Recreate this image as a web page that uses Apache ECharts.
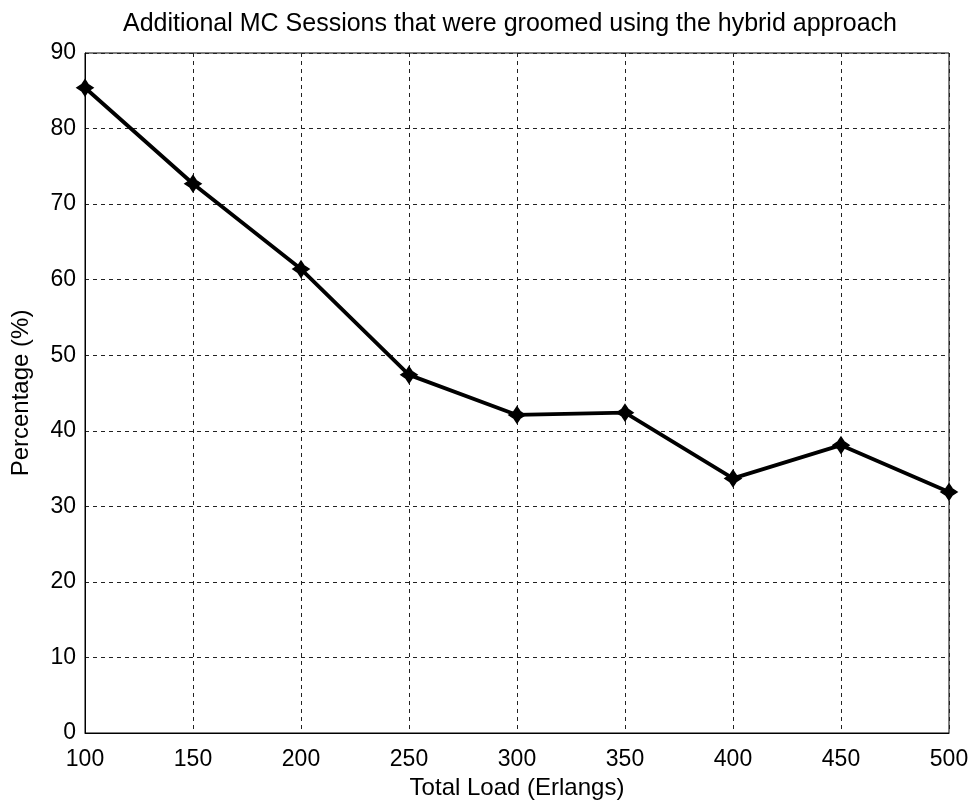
<!DOCTYPE html>
<html>
<head>
<meta charset="utf-8">
<script src="https://cdn.jsdelivr.net/npm/echarts@6/dist/echarts.min.js"></script>
<style>
  html, body { margin: 0; padding: 0; background: #fff; }
  #chart { width: 976px; height: 805px; }
</style>
</head>
<body>
<div id="chart"></div>
<script>
// Total load (Erlangs) and share of additional MC sessions groomed (%)
const loads = [100, 150, 200, 250, 300, 350, 400, 450, 500];
const percentages = [85.4, 72.7, 61.4, 47.4, 42.1, 42.4, 33.7, 38.1, 31.9];
const yTicks = [0, 10, 20, 30, 40, 50, 60, 70, 80, 90];

const font = '"Liberation Sans", Arial, Helvetica, sans-serif';
const chart = echarts.init(document.getElementById('chart'));

// four-pointed star marker
const starPath = 'path://M0,-10 L4,-4 L10,0 L4,4 L0,10 L-4,4 L-10,0 L-4,-4 Z';

chart.setOption({
  backgroundColor: '#ffffff',
  animation: false,
  title: {
    text: 'Additional MC Sessions that were groomed using the hybrid approach',
    left: 505, top: 7, textAlign: 'center',
    textStyle: { fontFamily: font, fontSize: 25, fontWeight: 'normal', color: '#000' }
  },
  grid: {
    left: 85, right: 27, top: 53, bottom: 72,
    outerBoundsMode: 'none',
    containLabel: false,
    show: true, borderColor: '#000', borderWidth: 1, backgroundColor: '#fff'
  },
  xAxis: {
    type: 'value', min: 100, max: 500, interval: 50,
    name: 'Total Load (Erlangs)', nameLocation: 'middle', nameGap: 40,
    nameTextStyle: { fontFamily: font, fontSize: 24, color: '#000' },
    axisLine: { show: true, lineStyle: { color: '#000', width: 1 } },
    axisTick: { show: false },
    axisLabel: { fontFamily: font, fontSize: 23, color: '#000', margin: 15 },
    splitLine: { show: true, lineStyle: { color: '#222', type: [4, 4], width: 1 } }
  },
  yAxis: {
    type: 'value', min: 0, max: 90, interval: 10,
    name: 'Percentage (%)', nameLocation: 'middle', nameGap: 52,
    nameTextStyle: { fontFamily: font, fontSize: 24, color: '#000' },
    axisLine: { show: true, lineStyle: { color: '#000', width: 1 } },
    axisTick: { show: false },
    axisLabel: {
      fontFamily: font, fontSize: 23, color: '#000', margin: 9,
      formatter: v => (yTicks.includes(v) ? String(v) : '')
    },
    splitLine: { show: true, lineStyle: { color: '#222', type: [4, 4], width: 1 } }
  },
  series: [{
    type: 'line',
    data: loads.map((x, i) => [x, percentages[i]]),
    symbol: starPath,
    symbolSize: 16,
    showAllSymbol: true,
    lineStyle: { color: '#000', width: 3.8 },
    itemStyle: { color: '#000', borderColor: '#000', borderWidth: 1.5 },
    clip: false
  }]
});
</script>
</body>
</html>
